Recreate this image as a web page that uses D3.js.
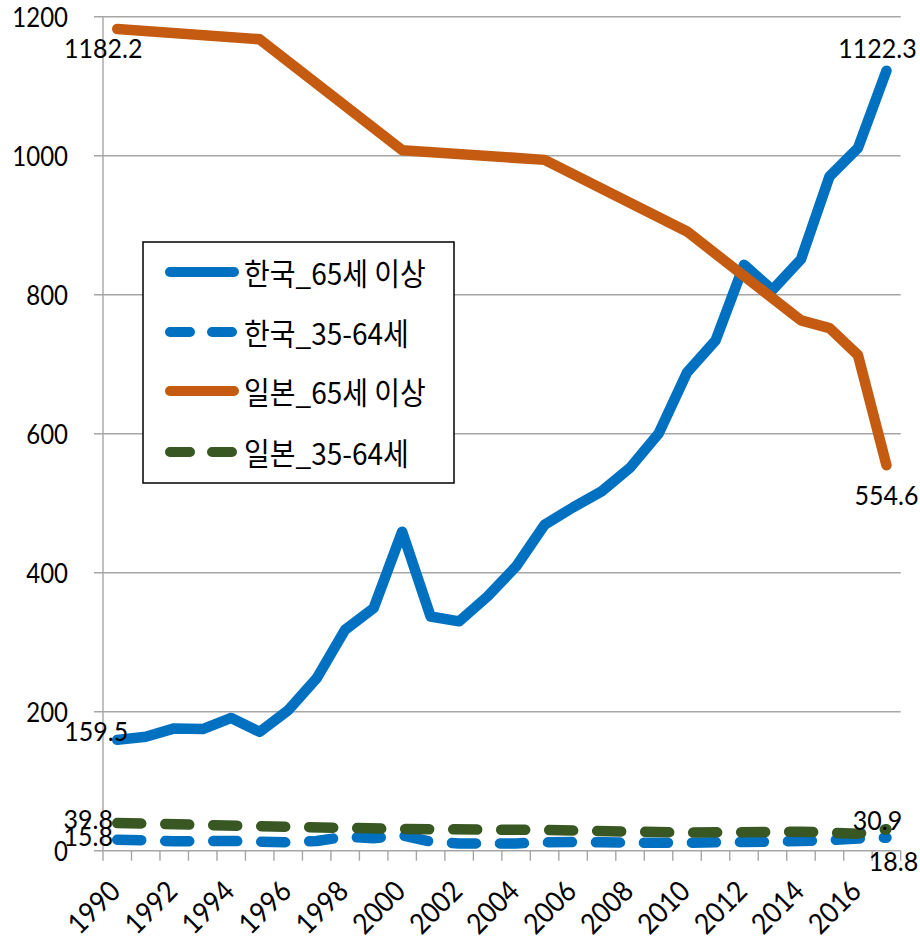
<!DOCTYPE html>
<html>
<head>
<meta charset="utf-8">
<script src="https://cdn.jsdelivr.net/npm/d3@7"></script>
<style>
  html, body { margin: 0; padding: 0; background: #fff; }
  svg { display: block; }
</style>
</head>
<body>
<svg id="chart" width="920" height="939"></svg>
<script>
// Years on the category axis
const years = d3.range(1990, 2018);
const tickYears = years.filter(y => y % 2 === 0);
const yTicks = [0, 200, 400, 600, 800, 1000, 1200];

// Korea, 65 and over (annual)
const korea65 = [159.5, 164, 176, 175, 191, 171, 202, 248, 318, 349,
                 459, 337, 330, 366, 409, 469, 494, 517, 551, 600,
                 688, 734, 843, 807, 851, 970, 1011, 1122.3];
// Korea, 35-64 (annual)
const korea3564 = [15.8, 15, 13.5, 14, 14, 13, 12, 14, 20, 18,
                   22, 13, 10.5, 10.5, 10.5, 12, 12.5, 12, 11.5, 11.5,
                   11.5, 12, 12.5, 13, 14, 15, 17.5, 18.8];
// Japan series are only available for these years
const japanYears = [1990, 1995, 2000, 2005, 2010, 2014, 2015, 2016, 2017];
const japan65 = [1182.2, 1167.5, 1008, 994, 891, 763, 752, 713, 554.6];
const japan3564 = [39.8, 35.3, 31.2, 29.8, 26, 27.4, 26, 24.5, 30.9];

const seriesNames = ["한국_65세 이상", "한국_35-64세", "일본_65세 이상", "일본_35-64세"];
const seriesColors = ["#0070C0", "#0070C0", "#C55A11", "#385723"];
const seriesDashed = [false, true, false, true];

const series = [
  { name: seriesNames[0], pts: years.map((yr, i) => ({ yr, v: korea65[i] })) },
  { name: seriesNames[1], pts: years.map((yr, i) => ({ yr, v: korea3564[i] })) },
  { name: seriesNames[2], pts: japanYears.map((yr, i) => ({ yr, v: japan65[i] })) },
  { name: seriesNames[3], pts: japanYears.map((yr, i) => ({ yr, v: japan3564[i] })) }
].map((s, i) => ({ ...s, color: seriesColors[i], dashed: seriesDashed[i] }));

const numFont = "Lato, 'Open Sans', sans-serif";
const korFont = "'Noto Sans CJK KR', 'Noto Sans', sans-serif";
const textStretch = 1.1;

const svg = d3.select("#chart");

const x = d3.scaleBand().domain(years).range([103, 900.7]);
const cx = yr => x(yr) + x.bandwidth() / 2;
const y = d3.scaleLinear().domain([0, 1200]).range([850.7, 16.7]);

// horizontal gridlines (with the short outer tick on the left)
const gridColor = "#a6a6a6";
svg.append("g").selectAll("line").data(yTicks).join("line")
  .attr("x1", 94).attr("x2", 900.7)
  .attr("y1", d => y(d)).attr("y2", d => y(d))
  .attr("stroke", gridColor).attr("stroke-width", 1.4);

// value axis line
svg.append("line")
  .attr("x1", 103).attr("x2", 103).attr("y1", y(1200)).attr("y2", y(0))
  .attr("stroke", gridColor).attr("stroke-width", 1.4);

// category axis ticks at band boundaries
const bounds = years.map(yr => x(yr)).concat([x.range()[1]]);
svg.append("g").selectAll("line").data(bounds).join("line")
  .attr("x1", d => d).attr("x2", d => d)
  .attr("y1", y(0)).attr("y2", y(0) + 10)
  .attr("stroke", gridColor).attr("stroke-width", 1.4);

// value axis labels
svg.append("g").selectAll("text").data(yTicks).join("text")
  .attr("transform", d => `translate(68,${y(d)}) scale(1,${textStretch})`)
  .attr("text-anchor", "end").attr("dominant-baseline", "central")
  .attr("font-family", numFont).attr("font-size", 24).attr("fill", "#000")
  .text(d => d);

// rotated year labels
svg.append("g").selectAll("text").data(tickYears).join("text")
  .attr("transform", d => `translate(${cx(d) + 5},893) rotate(-45) scale(1,${textStretch})`)
  .attr("text-anchor", "end")
  .attr("font-family", numFont).attr("font-size", 26).attr("fill", "#000")
  .text(d => d);

// series lines
const line = d3.line().x(d => cx(d.yr)).y(d => y(d.v));
svg.append("g").selectAll("path").data(series).join("path")
  .attr("d", d => line(d.pts))
  .attr("fill", "none")
  .attr("stroke", d => d.color)
  .attr("stroke-width", 10.5)
  .attr("stroke-linecap", "round")
  .attr("stroke-linejoin", "round")
  .attr("stroke-dasharray", d => d.dashed ? "24 24" : null);

// end-point value labels, offset from their points
const labels = [
  { s: 2, at: "first", dx: -14, dy: 18 },
  { s: 0, at: "last", dx: -9, dy: -23 },
  { s: 2, at: "last", dx: 0, dy: 29 },
  { s: 0, at: "first", dx: -21, dy: -9 },
  { s: 3, at: "first", dx: -29, dy: -5 },
  { s: 1, at: "first", dx: -29, dy: -4 },
  { s: 3, at: "last", dx: -9, dy: -10 },
  { s: 1, at: "last", dx: 7, dy: 23 }
].map(l => {
  const pts = series[l.s].pts;
  const p = l.at === "first" ? pts[0] : pts[pts.length - 1];
  return { px: cx(p.yr) + l.dx, py: y(p.v) + l.dy, v: p.v };
});
svg.append("g").selectAll("text").data(labels).join("text")
  .attr("transform", d => `translate(${d.px},${d.py}) scale(1,${textStretch})`)
  .attr("text-anchor", "middle").attr("dominant-baseline", "central")
  .attr("font-family", numFont).attr("font-size", 25).attr("fill", "#000")
  .text(d => d3.format(".1f")(d.v));

// legend
const lg = svg.append("g");
lg.append("rect")
  .attr("x", 143).attr("y", 242).attr("width", 311).attr("height", 241)
  .attr("fill", "#fff").attr("stroke", "#000").attr("stroke-width", 1.5);
const rowY = [272, 332, 391, 452];
const rows = lg.selectAll("g.row").data(series).join("g")
  .attr("class", "row")
  .attr("transform", (d, i) => `translate(0,${rowY[i]})`);
rows.append("line")
  .attr("x1", 170).attr("x2", d => d.dashed ? 232 : 234)
  .attr("y1", 0).attr("y2", 0)
  .attr("stroke", d => d.color).attr("stroke-width", 10)
  .attr("stroke-linecap", "round")
  .attr("stroke-dasharray", d => d.dashed ? "20 22" : null);
rows.append("text")
  .attr("transform", `translate(244,0) scale(1,1.08)`)
  .attr("dominant-baseline", "central")
  .attr("font-family", korFont).attr("font-size", 28).attr("fill", "#000")
  .text(d => d.name);
</script>
</body>
</html>
